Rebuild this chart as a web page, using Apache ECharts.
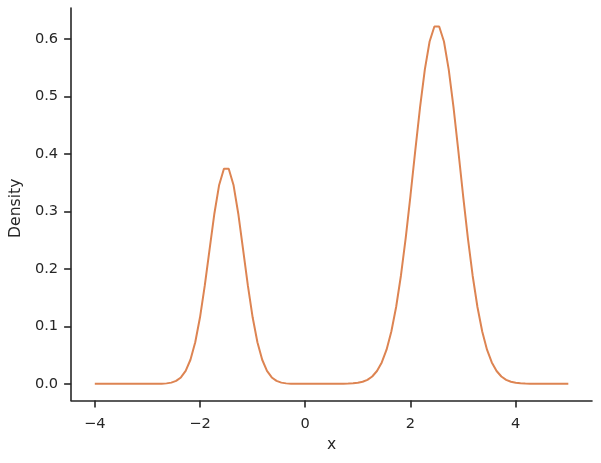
<!DOCTYPE html>
<html>
<head>
<meta charset="utf-8">
<script src="https://cdn.jsdelivr.net/npm/echarts@6/dist/echarts.min.js"></script>
<style>
html,body{margin:0;padding:0;background:#fff;}
#chart{width:601px;height:463px;}
</style>
</head>
<body>
<div id="chart"></div>
<script>
var xValues = [
-4.0000,-3.9091,-3.8182,-3.7273,-3.6364,-3.5455,-3.4545,-3.3636,-3.2727,-3.1818,
-3.0909,-3.0000,-2.9091,-2.8182,-2.7273,-2.6364,-2.5455,-2.4545,-2.3636,-2.2727,
-2.1818,-2.0909,-2.0000,-1.9091,-1.8182,-1.7273,-1.6364,-1.5455,-1.4545,-1.3636,
-1.2727,-1.1818,-1.0909,-1.0000,-0.9091,-0.8182,-0.7273,-0.6364,-0.5455,-0.4545,
-0.3636,-0.2727,-0.1818,-0.0909,0.0000,0.0909,0.1818,0.2727,0.3636,0.4545,
0.5455,0.6364,0.7273,0.8182,0.9091,1.0000,1.0909,1.1818,1.2727,1.3636,
1.4545,1.5455,1.6364,1.7273,1.8182,1.9091,2.0000,2.0909,2.1818,2.2727,
2.3636,2.4545,2.5455,2.6364,2.7273,2.8182,2.9091,3.0000,3.0909,3.1818,
3.2727,3.3636,3.4545,3.5455,3.6364,3.7273,3.8182,3.9091,4.0000,4.0909,
4.1818,4.2727,4.3636,4.4545,4.5455,4.6364,4.7273,4.8182,4.9091,5.0000
];
var densityValues = [
0,0,0,0,0,0,0,0,0,0,
0,0,0,0.0001,0.0003,0.0008,0.0021,0.0051,0.0111,0.0224,
0.0419,0.0724,0.1158,0.1712,0.2341,0.2960,0.3461,0.3743,0.3743,0.3461,
0.2960,0.2341,0.1712,0.1158,0.0724,0.0419,0.0224,0.0111,0.0051,0.0021,
0.0008,0.0003,0.0001,0,0,0,0,0,0,0,
0,0.0001,0.0002,0.0004,0.0009,0.0019,0.0037,0.0070,0.0128,0.0223,
0.0372,0.0594,0.0911,0.1337,0.1881,0.2537,0.3277,0.4057,0.4812,0.5469,
0.5957,0.6217,0.6217,0.5957,0.5469,0.4812,0.4057,0.3277,0.2537,0.1881,
0.1337,0.0911,0.0594,0.0372,0.0223,0.0128,0.0070,0.0037,0.0019,0.0009,
0.0004,0.0002,0.0001,0,0,0,0,0,0,0
];
var xTicks = [-4, -2, 0, 2, 4];
var yTicks = [0, 0.1, 0.2, 0.3, 0.4, 0.5, 0.6];

var seriesData = xValues.map(function (x, i) { return [x, densityValues[i]]; });
var axisColor = '#262626';
var font = 'DejaVu Sans';

var chart = echarts.init(document.getElementById('chart'), null, {renderer: 'canvas'});
chart.setOption({
  animation: false,
  backgroundColor: '#ffffff',
  grid: {left: 71, right: 9, top: 8, bottom: 62.5, containLabel: false},
  xAxis: {
    type: 'value',
    min: -4.45,
    max: 5.45,
    name: 'x',
    nameLocation: 'middle',
    nameGap: 36,
    nameTextStyle: {color: axisColor, fontSize: 15.6, fontFamily: font},
    axisLine: {show: true, onZero: false, lineStyle: {color: axisColor, width: 1.6}},
    axisTick: {show: true, length: 7, lineStyle: {color: axisColor, width: 1.6}, customValues: xTicks},
    axisLabel: {
      color: axisColor, fontSize: 14.6, fontFamily: font, margin: 16,
      customValues: xTicks,
      formatter: function (v) { return v < 0 ? '\u2212' + Math.abs(v) : String(v); }
    },
    splitLine: {show: false}
  },
  yAxis: {
    type: 'value',
    min: -0.029,
    max: 0.654,
    name: 'Density',
    nameLocation: 'middle',
    nameGap: 39,
    nameTextStyle: {color: axisColor, fontSize: 15.6, fontFamily: font, padding: [0, 8, 0, 0]},
    axisLine: {show: true, onZero: false, lineStyle: {color: axisColor, width: 1.6}},
    axisTick: {show: true, length: 7, lineStyle: {color: axisColor, width: 1.6}, customValues: yTicks},
    axisLabel: {
      color: axisColor, fontSize: 14.6, fontFamily: font, margin: 13,
      customValues: yTicks,
      formatter: function (v) { return v.toFixed(1); }
    },
    splitLine: {show: false}
  },
  series: [{
    type: 'line',
    data: seriesData,
    showSymbol: false,
    symbol: 'none',
    smooth: false,
    lineStyle: {color: '#dd8452', width: 2},
    itemStyle: {color: '#dd8452'}
  }]
});
</script>
</body>
</html>
